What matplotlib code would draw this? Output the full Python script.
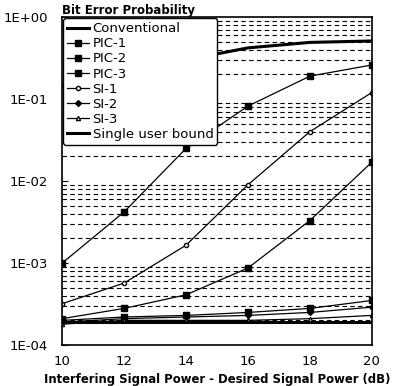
import matplotlib
matplotlib.use('Agg')
import matplotlib.pyplot as plt
from matplotlib.ticker import LogLocator, FixedFormatter, FixedLocator, NullFormatter

plt.rcParams['font.family'] = ['DejaVu Sans']

snr = [10, 12, 14, 16, 18, 20]
conventional = [0.14, 0.21, 0.30, 0.42, 0.49, 0.51]
pic1 = [1.0e-3, 4.2e-3, 2.5e-2, 8.2e-2, 0.19, 0.26]
pic2 = [2.1e-4, 2.8e-4, 4.1e-4, 8.7e-4, 3.3e-3, 1.7e-2]
pic3 = [2.0e-4, 2.2e-4, 2.3e-4, 2.5e-4, 2.8e-4, 3.5e-4]
si1 = [3.2e-4, 5.7e-4, 1.65e-3, 9.0e-3, 4.0e-2, 0.12]
si2 = [1.9e-4, 2.1e-4, 2.2e-4, 2.3e-4, 2.5e-4, 2.9e-4]
si3 = [1.8e-4, 2.0e-4, 2.0e-4, 2.0e-4, 2.1e-4, 2.3e-4]
bound = [1.9e-4, 1.9e-4, 1.9e-4, 1.9e-4, 1.9e-4, 1.9e-4]

ytick_vals = [1e-4, 1e-3, 1e-2, 1e-1, 1e0]
ytick_labels = ['1E-04', '1E-03', '1E-02', '1E-01', '1E+00']

fig = plt.figure(figsize=(3.96, 3.86), dpi=100)
ax = fig.add_axes([0.157, 0.106, 0.782, 0.850])

ax.plot(snr, conventional, color='black', lw=2.2, label='Conventional')
ax.plot(snr, pic1, color='black', lw=0.9, marker='s', ms=4, label='PIC-1')
ax.plot(snr, pic2, color='black', lw=0.9, marker='s', ms=4, label='PIC-2')
ax.plot(snr, pic3, color='black', lw=0.9, marker='s', ms=4, label='PIC-3')
ax.plot(snr, si1, color='black', lw=0.9, marker='o', ms=3, mfc='white', label='SI-1')
ax.plot(snr, si2, color='black', lw=0.9, marker='D', ms=3, label='SI-2')
ax.plot(snr, si3, color='black', lw=0.9, marker='^', ms=3, mfc='white', label='SI-3')
ax.plot(snr, bound, color='black', lw=2.2, label='Single user bound')

ax.set_yscale('log')
ax.set_ylim(1e-4, 1)
ax.set_xlim(10, 20)
ax.yaxis.set_major_locator(FixedLocator(ytick_vals))
ax.yaxis.set_major_formatter(FixedFormatter(ytick_labels))
ax.yaxis.set_minor_locator(LogLocator(base=10, subs=range(2, 10)))
ax.yaxis.set_minor_formatter(NullFormatter())
ax.grid(which='minor', axis='y', color='black', ls=(0, (4, 3)), lw=0.8)
ax.set_xticks(snr)
ax.tick_params(axis='both', which='major', labelsize=9.5, direction='in', length=4)
ax.tick_params(axis='y', which='major', pad=10)
ax.tick_params(axis='y', which='minor', direction='in', length=2.5)
ax.tick_params(axis='x', length=0, pad=7)
for s in ax.spines.values():
    s.set_linewidth(1.2)

ax.set_xlabel('Interfering Signal Power - Desired Signal Power (dB)',
              fontsize=8.4, fontweight='bold', labelpad=4)
ax.set_title('Bit Error Probability', fontsize=8.5, fontweight='bold', loc='left', pad=2)

leg = ax.legend(loc='upper left', fontsize=9.5, frameon=True, fancybox=True,
                edgecolor='black', framealpha=1, handlelength=1.6, handletextpad=0.3,
                labelspacing=0.16, borderaxespad=0.1, borderpad=0.3)
leg.get_frame().set_linewidth(1.0)

fig.savefig('out.png', dpi=100)
